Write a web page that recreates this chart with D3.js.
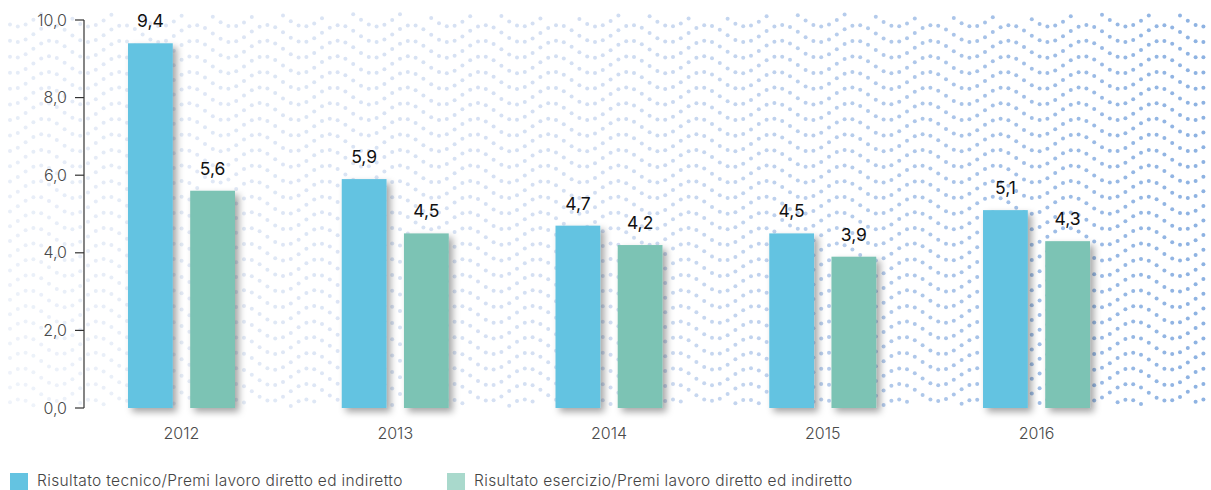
<!DOCTYPE html>
<html>
<head>
<meta charset="utf-8">
<script src="https://cdn.jsdelivr.net/npm/d3@7"></script>
<style>
  html, body { margin: 0; padding: 0; background: #fff; }
  svg { display: block; font-family: Inter, "Noto Sans", sans-serif; }
  .tick-lbl { fill: #4a4a4a; font-size: 16px; font-weight: 300; }
  .val-lbl { fill: #111; font-size: 17.5px; font-weight: 400; }
  .leg { fill: #444; font-size: 15.5px; font-weight: 300; letter-spacing: 0.35px; }
</style>
</head>
<body>
<svg id="chart" width="1211" height="490"></svg>
<script>
"use strict";

// data
var years = ["2012", "2013", "2014", "2015", "2016"];
var tecnico = [9.4, 5.9, 4.7, 4.5, 5.1];
var esercizio = [5.6, 4.5, 4.2, 3.9, 4.3];
var yTicks = [0, 2, 4, 6, 8, 10];
var seriesNames = ["Risultato tecnico/Premi lavoro diretto ed indiretto",
                   "Risultato esercizio/Premi lavoro diretto ed indiretto"];
var barColours = ["#64c3e1", "#7cc3b4"];
var legendColours = ["#64c3e1", "#a9d9cc"];

var svg = d3.select("#chart");
var fmt = function(v) { return d3.format(".1f")(v).replace(".", ","); };

var y = d3.scaleLinear().domain([0, 10]).range([408, 20]);
var x = d3.scaleBand().domain(years).range([74.6, 1143.4]);
var xs = d3.scaleBand().domain([0, 1]).range([x.bandwidth()/2 - 53.5, x.bandwidth()/2 + 53.5])
  .paddingInner(0.28);

// drop shadow for the bars
var defs = svg.append("defs");
var f = defs.append("filter").attr("id", "shadow")
  .attr("x", "-20%").attr("y", "-10%").attr("width", "160%").attr("height", "130%");
f.append("feDropShadow")
  .attr("dx", 4).attr("dy", 4).attr("stdDeviation", 3.5)
  .attr("flood-color", "#000").attr("flood-opacity", 0.35);

/*
 * background: wavy rows of dots
 */
var dots = [];
var dx = 7.8, dy = 15.6, amp = 8.5, wave = 74;
for (var r = 0; r < 27; r++) {
  var y0 = 18 + r * dy;
  for (var cx = 10; cx < 1206; cx += dx) {
    var cy = y0 + amp * Math.sin(2 * Math.PI * (cx / wave) + r * 0.12 + Math.sin(cx / 380) * 1.2);
    if (cy < 14 || cy > 406) continue;
    dots.push([cx, cy]);
  }
}
var dotCol = d3.scaleLinear().domain([10, 600, 1205])
  .range(["#e3eaf6", "#d2def2", "#8db2e2"]);
svg.append("g").selectAll("circle")
  .data(dots).enter()
    .append("circle")
      .attr("cx", function(d) { return d[0]; })
      .attr("cy", function(d) { return d[1]; })
      .attr("r", 2)
      .attr("fill", function(d) {
        var c = d3.color(dotCol(d[0]));
        return d3.interpolateRgb(c, "#ffffff")(d[0] < 400 ? (d[1] / 408) * 0.45 * (1 - d[0] / 400) : 0);
      });

// y axis
var ay = svg.append("g");
ay.append("line")
  .attr("x1", 84).attr("x2", 84)
  .attr("y1", y(10)).attr("y2", y(0))
  .attr("stroke", "#333").attr("stroke-width", 1.2);
ay.selectAll(".tk").data(yTicks).enter()
  .append("line")
    .attr("x1", 75).attr("x2", 84)
    .attr("y1", function(d) { return y(d); })
    .attr("y2", function(d) { return y(d); })
    .attr("stroke", "#333").attr("stroke-width", 1.2);
ay.selectAll(".tick-lbl").data(yTicks).enter()
  .append("text")
    .attr("class", "tick-lbl")
    .attr("text-anchor", "end")
    .attr("x", 67)
    .attr("y", function(d) { return y(d); })
    .attr("dy", "0.35em")
    .text(fmt);

// bars
var groups = svg.append("g").selectAll("g")
  .data(years).enter()
    .append("g")
      .attr("transform", function(d) { return "translate(" + x(d) + ",0)"; });

[tecnico, esercizio].forEach(function(series, s) {
  groups.append("rect")
    .attr("x", xs(s))
    .attr("width", xs.bandwidth())
    .attr("y", function(d, i) { return y(series[i]); })
    .attr("height", function(d, i) { return y(0) - y(series[i]); })
    .attr("fill", barColours[s])
    .attr("filter", "url(#shadow)");
  groups.append("text")
    .attr("class", "val-lbl")
    .attr("text-anchor", "middle")
    .attr("x", xs(s) + xs.bandwidth() / 2)
    .attr("y", function(d, i) { return y(series[i]) - 16; })
    .text(function(d, i) { return fmt(series[i]); });
});

// x labels
groups.append("text")
  .attr("class", "tick-lbl")
  .attr("text-anchor", "middle")
  .attr("x", x.bandwidth() / 2)
  .attr("y", 439)
  .text(function(d) { return d; });

// legend
var legX = [10, 447];
var leg = svg.append("g").selectAll("g")
  .data(seriesNames).enter()
    .append("g")
      .attr("transform", function(d, i) { return "translate(" + legX[i] + ",473)"; });
leg.append("rect")
  .attr("width", 18).attr("height", 17)
  .attr("fill", function(d, i) { return legendColours[i]; });
leg.append("text")
  .attr("class", "leg")
  .attr("x", 27).attr("y", 13)
  .text(function(d) { return d; });
</script>
</body>
</html>
